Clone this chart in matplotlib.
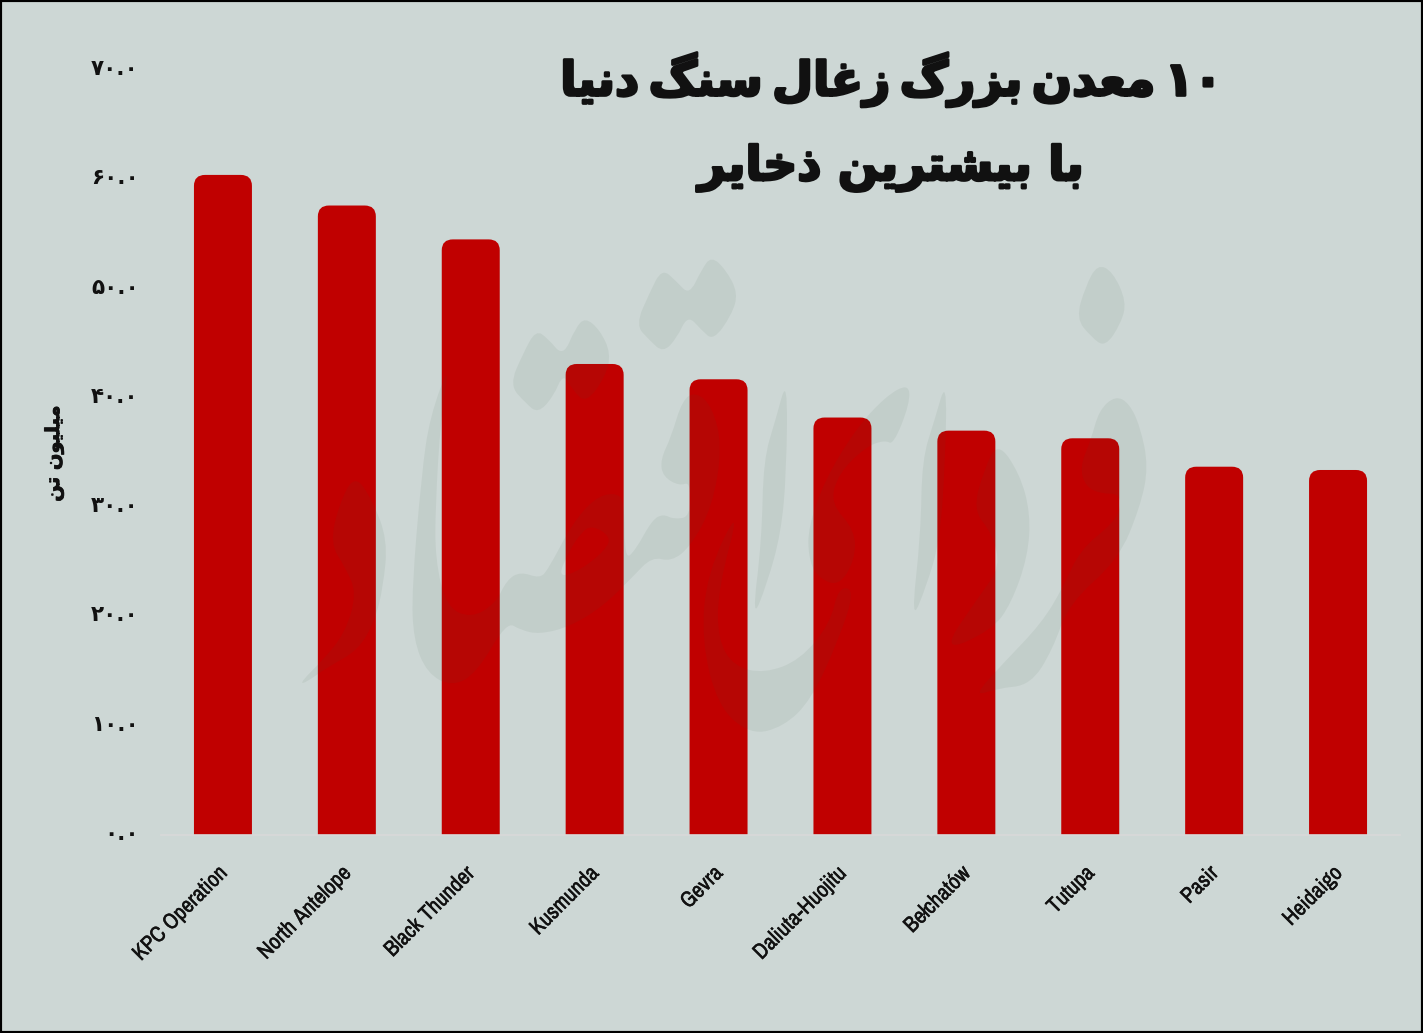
import matplotlib
matplotlib.use('Agg')
import matplotlib.pyplot as plt
import matplotlib.patheffects as pe
from matplotlib import font_manager
from matplotlib.patches import PathPatch, Rectangle
from matplotlib.path import Path
from matplotlib.transforms import ScaledTranslation

mines = ['KPC Operation', 'North Antelope', 'Black Thunder', 'Kusmunda', 'Gevra',
         'Daliuta-Huojitu', 'Bełchatów', 'Tutupa', 'Pasir', 'Heidaigo']
reserves = [60.4, 57.6, 54.5, 43.1, 41.7, 38.2, 37.0, 36.3, 33.7, 33.4]
tick_values = [0, 10, 20, 30, 40, 50, 60, 70]
tick_labels = ['۰.۰', '۱۰.۰', '۲۰.۰', '۳۰.۰', '۴۰.۰', '۵۰.۰', '۶۰.۰', '۷۰.۰']
title_lines = ['۱۰ معدن بزرگ زغال سنگ دنیا', 'با بیشترین ذخایر']
y_title = 'میلیون تن'

W, H = 1423, 1033
BG = '#CDD7D5'
RED = '#C00000'
INK = '#111111'

# isolated, final, initial, medial presentation forms (two forms = no joining to the next letter)
FORMS = {
    'ا': ('\uFE8D', '\uFE8E'), 'د': ('\uFEA9', '\uFEAA'), 'ذ': ('\uFEAB', '\uFEAC'),
    'ر': ('\uFEAD', '\uFEAE'), 'ز': ('\uFEAF', '\uFEB0'), 'و': ('\uFEED', '\uFEEE'),
    'ب': ('\uFE8F', '\uFE90', '\uFE91', '\uFE92'), 'ت': ('\uFE95', '\uFE96', '\uFE97', '\uFE98'),
    'خ': ('\uFEA5', '\uFEA6', '\uFEA7', '\uFEA8'), 'س': ('\uFEB1', '\uFEB2', '\uFEB3', '\uFEB4'),
    'ش': ('\uFEB5', '\uFEB6', '\uFEB7', '\uFEB8'), 'ع': ('\uFEC9', '\uFECA', '\uFECB', '\uFECC'),
    'غ': ('\uFECD', '\uFECE', '\uFECF', '\uFED0'), 'ل': ('\uFEDD', '\uFEDE', '\uFEDF', '\uFEE0'),
    'م': ('\uFEE1', '\uFEE2', '\uFEE3', '\uFEE4'), 'ن': ('\uFEE5', '\uFEE6', '\uFEE7', '\uFEE8'),
    'گ': ('\uFB92', '\uFB93', '\uFB94', '\uFB95'), 'ی': ('\uFBFC', '\uFBFD', '\uFBFE', '\uFBFF'),
}

# faint logo outlines, traced in pixels of a crop (see logo_path)
LOGO = [
    [(400, 435), (425, 340), (448, 270), (470, 295), (498, 350), (520, 265), (538, 232), (565, 270), (585, 340),
     (575, 410), (540, 490), (515, 450), (498, 400), (480, 470), (452, 520), (430, 490)],
    [(630, 255), (655, 160), (678, 85), (705, 125), (728, 165), (750, 90), (768, 48), (795, 90), (817, 160),
     (805, 225), (772, 302), (750, 270), (725, 225), (705, 295), (680, 338), (655, 300)],
    [(1433, 235), (1450, 140), (1472, 72), (1500, 95), (1525, 185), (1515, 250), (1486, 322), (1460, 290)],
    [(20, 1325), (60, 1260), (100, 1180), (122, 1060), (100, 980), (73, 910), (90, 790), (118, 703), (150, 780),
     (178, 900), (170, 1040), (155, 1140), (125, 1230), (70, 1280), (25, 1332)],
    [(292, 365), (255, 530), (240, 700), (222, 1050), (225, 1200), (250, 1300), (295, 1340), (340, 1300), (395, 1145),
     (420, 1170), (455, 1183), (510, 1160), (570, 1100), (625, 1010), (660, 950), (695, 965), (730, 920), (770, 800),
     (788, 620), (770, 500), (740, 455), (715, 480), (695, 590), (675, 660), (680, 710), (710, 738), (730, 725),
     (730, 830), (700, 838), (680, 822), (660, 840), (630, 930), (610, 960), (610, 780), (590, 757), (555, 775),
     (515, 850), (470, 990), (455, 1015), (420, 995), (395, 1020), (375, 1090), (330, 1135), (285, 1100), (265, 960),
     (265, 800), (275, 530)],
    [(550, 855), (585, 890), (575, 930), (530, 990), (487, 1015), (510, 930), (530, 880)],
    [(1128, 430), (1085, 470), (1030, 570), (975, 720), (945, 860), (945, 950), (960, 1010), (1000, 1040), (1030, 960),
     (1030, 870), (985, 790), (1000, 700), (1050, 620), (1085, 600), (1100, 615), (1130, 490)],
    [(822, 790), (760, 1000), (750, 1200), (780, 1400), (840, 1485), (900, 1460), (950, 1380), (1000, 1200),
     (1030, 1050), (1000, 1040), (985, 1150), (930, 1260), (865, 1300), (810, 1280), (780, 1200), (780, 1050)],
    [(907, 408), (885, 540), (863, 660), (860, 900), (842, 1145), (870, 1030), (895, 880), (905, 700)],
    [(1197, 415), (1175, 540), (1152, 660), (1150, 880), (1132, 1150), (1160, 1040), (1185, 900), (1195, 650)],
    [(1290, 605), (1330, 700), (1350, 820), (1345, 950), (1315, 1090), (1280, 1170), (1185, 1240), (1260, 1060),
     (1295, 980), (1280, 880), (1245, 810), (1265, 690)],
    [(1505, 467), (1475, 510), (1460, 600), (1440, 680), (1450, 740), (1480, 762), (1510, 760), (1515, 800), (1500, 850),
     (1440, 930), (1410, 1040), (1370, 1150), (1300, 1270), (1245, 1370), (1290, 1345), (1350, 1335), (1390, 1230),
     (1420, 1090), (1510, 960), (1550, 800), (1565, 680), (1550, 560), (1530, 490)],
]


def shape_word(word):
    out = []
    for i, ch in enumerate(word):
        if ch not in FORMS:
            out.append(ch)
            continue
        prev = word[i - 1] if i > 0 else ''
        nxt = word[i + 1] if i + 1 < len(word) else ''
        joins_prev = prev in FORMS and len(FORMS[prev]) == 4
        joins_next = len(FORMS[ch]) == 4 and nxt in FORMS
        forms = FORMS[ch]
        if joins_prev and joins_next:
            out.append(forms[3])
        elif joins_prev:
            out.append(forms[1])
        elif joins_next:
            out.append(forms[2])
        else:
            out.append(forms[0])
    return ''.join(reversed(out))


def shape_line(line, sep=' '):
    # matplotlib does no shaping or bidi, so lay the words out in visual order
    words = []
    for word in line.split(' '):
        if word[0] in '۰۱۲۳۴۵۶۷۸۹':
            words.append(word)
        else:
            words.append(shape_word(word))
    return sep.join(reversed(words))


def rounded_bar(ax, x, height, width, rx, ry, color):
    l, r = x - width / 2, x + width / 2
    verts = [(l, 0), (l, height - ry), (l, height), (l + rx, height),
             (r - rx, height), (r, height), (r, height - ry), (r, 0), (l, 0)]
    codes = [Path.MOVETO, Path.LINETO, Path.CURVE3, Path.CURVE3,
             Path.LINETO, Path.CURVE3, Path.CURVE3, Path.LINETO, Path.CLOSEPOLY]
    ax.add_patch(PathPatch(Path(verts, codes), facecolor=color, edgecolor='none', zorder=2))


def logo_path(shapes):
    verts, codes = [], []
    for shape in shapes:
        pts = [((290 + x / 1.823) / W, 1 - (240 + y / 3) / H) for x, y in shape]
        n = len(pts)
        mids = [((pts[i][0] + pts[(i + 1) % n][0]) / 2, (pts[i][1] + pts[(i + 1) % n][1]) / 2) for i in range(n)]
        verts.append(mids[-1])
        codes.append(Path.MOVETO)
        for i in range(n):
            verts += [pts[i], mids[i]]
            codes += [Path.CURVE3, Path.CURVE3]
    return Path(verts, codes)


def narrow_font():
    for f in font_manager.fontManager.ttflist:
        if 'Narrow' in f.name or 'Condensed' in f.name or str(f.stretch) in ('condensed', 'semi-condensed', 'extra-condensed'):
            if 'DejaVu' not in f.name:
                return font_manager.FontProperties(family=f.name, stretch=f.stretch, weight='bold', size=16)
    return font_manager.FontProperties(family='Lato', weight='bold', size=16)


fig = plt.figure(figsize=(W / 100, H / 100), dpi=100, facecolor=BG)
ax = fig.add_axes([161 / W, 1 - 835 / H, (1400 - 161) / W, 765 / H])
ax.set_facecolor('none')
ax.set_xlim(-0.5, 9.5)
ax.set_ylim(0, 70)

for i, value in enumerate(reserves):
    rounded_bar(ax, i, value, 0.468, 0.09, 1.0, RED)

ax.set_yticks(tick_values)
ax.set_yticklabels(tick_labels, family='DejaVu Sans', fontweight='bold', fontsize=15.5, color=INK)
ax.tick_params(axis='y', length=0, pad=16)
for label in ax.get_yticklabels():
    label.set_transform(label.get_transform() + ScaledTranslation(0, 3 / 100, fig.dpi_scale_trans))

ax.set_xticks(range(len(mines)))
ax.set_xticklabels(mines, rotation=45, ha='right', va='top', rotation_mode='anchor',
                   fontproperties=narrow_font(), color=INK)
ax.tick_params(axis='x', length=0, pad=20)
for label in ax.get_xticklabels():
    label.set_transform(label.get_transform() + ScaledTranslation(-6 / 100, 0, fig.dpi_scale_trans))
    label.set_path_effects([pe.withStroke(linewidth=0.3, foreground=INK)])

for side in ['top', 'right', 'left']:
    ax.spines[side].set_visible(False)
ax.spines['bottom'].set_color('#D9D9D9')
ax.spines['bottom'].set_linewidth(1.2)

heavy = [pe.withStroke(linewidth=2.0, foreground=INK)]
fig.text(891 / W, 1 - 80 / H, shape_line(title_lines[0], sep='\u2009'), family='DejaVu Sans', fontweight='bold',
         fontsize=34, color=INK, ha='center', va='center', path_effects=heavy)
fig.text(891 / W, 1 - 168 / H, shape_line(title_lines[1]), family='DejaVu Sans', fontweight='bold',
         fontsize=34, color=INK, ha='center', va='center', path_effects=heavy)
fig.text(54 / W, 1 - 453 / H, shape_line(y_title), family='DejaVu Sans', fontweight='bold',
         fontsize=14, color=INK, rotation=90, ha='center', va='center',
         path_effects=[pe.withStroke(linewidth=0.6, foreground=INK)])

fig.add_artist(PathPatch(logo_path(LOGO), facecolor='#3C5A40', edgecolor='none', alpha=0.07,
                         transform=fig.transFigure, zorder=5))

fig.add_artist(Rectangle((0, 0), 1, 1, transform=fig.transFigure, fill=False,
                         edgecolor='black', linewidth=3, zorder=10))

fig.savefig('out.png', dpi=100, facecolor=BG)
